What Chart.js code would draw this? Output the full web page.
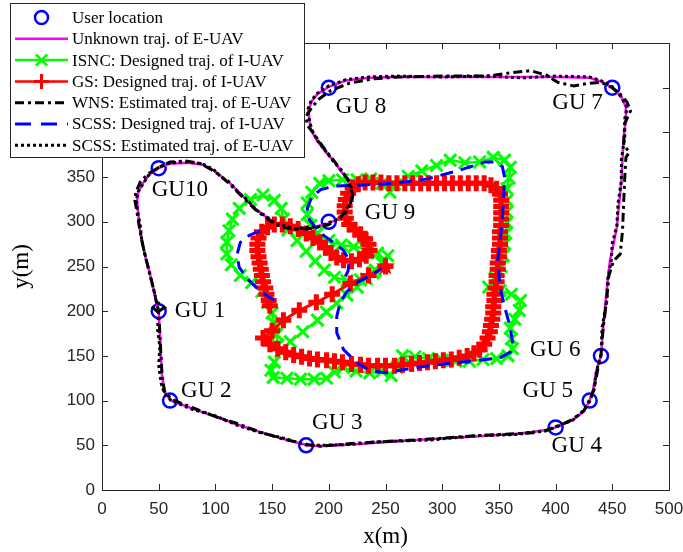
<!DOCTYPE html>
<html>
<head>
<meta charset="utf-8">
<script src="https://cdn.jsdelivr.net/npm/chart.js@4.4.0/dist/chart.umd.min.js"></script>
<style>
  html, body { margin: 0; padding: 0; background: #fff; }
</style>
</head>
<body>
<canvas id="traj" width="683" height="552"></canvas>
<script>
// user (GU) locations
const guX = [50, 60, 180, 400, 430, 440, 450, 200, 200, 50];
const guY = [200, 100, 50, 70, 100, 150, 450, 450, 300, 360];
const guNames = ['GU 1', 'GU 2', 'GU 3', 'GU 4', 'GU 5', 'GU 6', 'GU 7', 'GU 8', 'GU 9', 'GU10'];

// unknown trajectory of the E-UAV
const eTrueX = [50, 51, 52, 53, 56, 61, 80, 100, 120, 139, 160, 181, 192, 220, 245, 290, 333, 365, 380, 392,
  400, 415, 425, 430, 433, 436, 440, 442, 444, 446, 448, 451, 454, 456, 458, 459, 460, 462, 462, 458,
  450, 440, 430, 400, 370, 340, 300, 260, 235, 215, 200, 190, 185, 182, 184, 190, 198, 205, 210, 216,
  219, 220, 219, 215, 210, 200, 190, 181, 170, 163, 153, 145, 136, 128, 120, 113, 105, 98, 88, 75,
  60, 50, 42, 36, 32, 31, 32, 33, 35, 38, 42, 46, 49, 50];
const eTrueY = [200, 176, 150, 127, 108, 100, 91, 82, 73, 65, 57, 50, 49, 51, 53, 57, 60, 63, 65, 67,
  70, 78, 88, 100, 112, 134, 150, 182, 210, 235, 257, 275, 294, 320, 345, 370, 395, 415, 428, 440,
  450, 457, 461, 462, 462, 462, 462, 462, 461, 458, 451, 443, 435, 425, 403, 390, 377, 367, 358, 348,
  339, 330, 321, 312, 305, 298, 295, 293, 293, 294, 299, 305, 314, 324, 334, 343, 351, 358, 364, 366,
  365, 360, 353, 343, 333, 324, 308, 294, 280, 262, 243, 222, 205, 200];

// ISNC: designed trajectory of the I-UAV
const isncX = [252, 247, 241, 233, 225, 216, 207, 198, 190, 177, 166, 158, 152, 149, 151, 163, 175, 187, 198, 205,
  213, 224, 236, 247, 255, 260, 265, 276, 288, 300, 312, 324, 336, 348, 358, 362, 361, 360, 364, 368,
  369, 361, 351, 341, 347, 352, 354, 355, 356, 357, 357, 357, 357, 359, 360, 355, 345, 333, 320, 307,
  295, 282, 270, 258, 254, 247, 237, 225, 212, 200, 192, 185, 181, 181, 184, 190, 200, 211, 222, 233,
  243, 248, 239, 228, 216, 205, 196, 188, 180, 172, 164, 160, 158, 152, 142, 131, 121, 115, 112, 110,
  110, 114, 122, 132, 141, 146, 150, 152, 154, 155];
const isncY = [262, 254, 246, 236, 227, 218, 209, 199, 190, 177, 166, 155, 143, 134, 126, 125, 124, 124, 125, 132,
  137, 133, 131, 133, 128, 137, 150, 149, 147, 145, 144, 144, 146, 147, 150, 158, 169, 181, 191, 201,
  212, 219, 223, 227, 238, 250, 262, 275, 287, 299, 311, 324, 337, 349, 361, 369, 372, 367, 366, 369,
  363, 357, 351, 342, 333, 343, 348, 347, 347, 346, 343, 333, 321, 308, 296, 287, 279, 274, 272, 270,
  265, 255, 243, 235, 234, 238, 246, 256, 267, 279, 291, 303, 315, 324, 330, 325, 315, 303, 290, 277,
  264, 252, 240, 232, 222, 210, 198, 186, 174, 162];

// GS: designed trajectory of the I-UAV
const gsX = [250, 235, 219, 203, 189, 174, 160, 150, 142, 148, 155, 162, 169, 176, 183, 190, 198, 205, 212, 220,
  228, 235, 243, 250, 258, 265, 273, 280, 287, 294, 301, 308, 315, 322, 328, 333, 337, 340, 342, 343,
  344, 345, 345, 346, 346, 347, 348, 348, 349, 349, 350, 350, 351, 351, 351, 352, 352, 352, 352, 352,
  351, 348, 343, 337, 330, 323, 316, 309, 302, 295, 288, 281, 274, 267, 260, 253, 246, 239, 232, 226,
  221, 217, 215, 214, 214, 215, 218, 223, 228, 232, 235, 236, 233, 227, 220, 213, 207, 202, 197, 192,
  186, 180, 173, 166, 159, 152, 146, 141, 138, 137, 137, 138, 139, 140, 141, 142, 144, 145, 147, 148];
const gsY = [250, 240, 231, 219, 210, 201, 190, 178, 170, 163, 158, 154, 151, 149, 147, 146, 145, 144, 143, 141,
  140, 139, 139, 139, 139, 140, 141, 142, 143, 144, 145, 146, 148, 150, 153, 157, 163, 170, 177, 184,
  191, 198, 205, 212, 219, 226, 233, 240, 247, 254, 261, 268, 275, 282, 289, 296, 303, 310, 317, 324,
  331, 337, 341, 343, 343, 343, 343, 343, 343, 343, 343, 343, 343, 343, 343, 343, 344, 344, 344, 342,
  338, 332, 325, 318, 311, 304, 297, 291, 286, 281, 275, 268, 262, 258, 256, 257, 260, 265, 271, 277,
  282, 287, 292, 295, 297, 297, 294, 289, 282, 275, 268, 261, 254, 247, 240, 233, 226, 219, 212, 206];

// WNS: estimated trajectory of the E-UAV
const wnsX = [50, 55, 50, 45, 50, 51, 52, 53, 55, 62, 80, 100, 120, 139, 160, 181, 193, 220, 245, 290,
  333, 365, 381, 390, 400, 415, 425, 430, 434, 437, 440, 442, 445, 447, 451, 457, 459, 460, 461, 462,
  465, 460, 461, 466, 463, 456, 450, 440, 430, 416, 402, 392, 378, 362, 340, 300, 262, 240, 218, 202,
  192, 185, 180, 181, 186, 192, 199, 206, 211, 217, 220, 221, 219, 215, 209, 200, 190, 181, 170, 162,
  152, 144, 135, 127, 119, 112, 104, 97, 87, 74, 60, 50, 41, 34, 30, 29, 31, 33, 35, 38,
  42, 46, 48];
const wnsY = [200, 204, 209, 204, 198, 176, 150, 128, 110, 101, 92, 82, 74, 65, 57, 51, 49, 52, 54, 57,
  61, 63, 64, 66, 70, 79, 89, 101, 113, 134, 151, 182, 212, 240, 256, 264, 290, 321, 350, 372,
  378, 386, 410, 424, 434, 444, 450, 456, 455, 452, 456, 464, 469, 467, 463, 463, 462, 460, 455, 447,
  438, 428, 418, 408, 400, 389, 377, 366, 357, 347, 338, 329, 320, 311, 304, 297, 294, 292, 292, 293,
  298, 305, 314, 324, 334, 343, 352, 358, 365, 368, 367, 361, 354, 345, 334, 324, 310, 294, 280, 262,
  243, 222, 210];

// SCSS: designed trajectory of the I-UAV (null = break)
const scssX = [250, 237, 225, 216, 210, 207, 207, 213, 225, 236, 250, 272, 301, 331, 351, 360, 362, 360, 355, 351,
  349, 352, 354, 355, 353, 346, 338, 316, 287, 257, 228, 205, 193, 185, 181, 183, 192, 204, 213, 218,
  217, 212, null, 152, 140, 129, 121, 119, 122, 130, 140];
const scssY = [250, 240, 232, 222, 210, 194, 176, 157, 142, 134, 131, 136, 141, 145, 148, 154, 165, 182, 205, 227,
  257, 290, 321, 350, 362, 367, 367, 358, 348, 343, 341, 340, 336, 328, 315, 302, 288, 277, 268, 257,
  245, 232, null, 212, 222, 235, 249, 263, 277, 285, 290];

// SCSS: estimated trajectory of the E-UAV
const scssEstX = [50, 49, 51, 50, 52, 55, 61, 80, 100, 120, 140, 160, 181, 193, 220, 245, 290, 333, 365, 381,
  391, 400, 415, 425, 430, 434, 436, 440, 441, 445, 446, 449, 450, 454, 455, 458, 458, 461, 461, 463,
  457, 450, 440, 430, 400, 370, 340, 300, 260, 235, 215, 200, 189, 184, 181, 185, 190, 198, 205, 211,
  216, 219, 221, 219, 214, 210, 200, 190, 181, 170, 163, 153, 145, 136, 128, 120, 113, 105, 98, 88,
  75, 60, 50, 42, 36, 32, 30, 32, 34, 35, 38, 42, 46, 49, 50];
const scssEstY = [200, 180, 160, 140, 120, 108, 100, 90, 83, 72, 64, 58, 50, 50, 51, 54, 56, 61, 62, 65,
  66, 71, 78, 89, 99, 113, 133, 151, 182, 210, 236, 256, 276, 295, 320, 346, 370, 395, 415, 428,
  441, 451, 458, 462, 463, 461, 463, 462, 463, 462, 459, 452, 443, 434, 424, 403, 391, 378, 366, 358,
  349, 339, 330, 320, 312, 304, 299, 294, 294, 292, 295, 298, 306, 313, 325, 333, 344, 350, 359, 365,
  367, 366, 361, 354, 342, 334, 324, 308, 294, 279, 263, 242, 222, 205, 200];

const xTicks = [0, 50, 100, 150, 200, 250, 300, 350, 400, 450, 500];
const yTicks = [0, 50, 100, 150, 200, 250, 300, 350, 400, 450, 500];

const toPts = (xs, ys) => xs.map((x, i) => (x === null ? { x: null, y: null } : { x: x, y: ys[i] }));

const BLUE = '#0000ff';
const MAGENTA = '#ff00ff';
const GREEN = '#00ff00';
const RED = '#ff0000';
const AXIS = '#262626';

function makeStar(size, color) {
  const c = document.createElement('canvas');
  c.width = size;
  c.height = size;
  const g = c.getContext('2d');
  const R = size / 2 - 0.5, r = R * 0.4;
  g.beginPath();
  for (let i = 0; i < 10; i++) {
    const a = -Math.PI / 2 + i * Math.PI / 5;
    const rr = i % 2 ? r : R;
    g.lineTo(size / 2 + rr * Math.cos(a), size / 2 + rr * Math.sin(a));
  }
  g.closePath();
  g.fillStyle = color;
  g.fill();
  return c;
}
const starImg = makeStar(21, RED);

// label offsets (px) from each GU marker: left edge / vertical middle of the text
const guLabelDx = [16, 11, 6, -4, -67, -71, -60, 7, 36, -7];
const guLabelDy = [0, -10, -22, 19, -10, -6, 15, 19, -9, 22];

const legendRows = [
  'User location',
  'Unknown traj. of E-UAV',
  'ISNC: Designed traj. of I-UAV',
  'GS: Designed traj. of I-UAV',
  'WNS: Estimated traj. of E-UAV',
  'SCSS: Designed traj. of I-UAV',
  'SCSS: Estimated traj. of E-UAV'
];

function crossMark(ctx, x, y, r, rot) {
  const a = rot ? Math.PI / 4 : 0;
  const dx = Math.cos(a) * r, dy = Math.sin(a) * r;
  ctx.beginPath();
  ctx.moveTo(x - dx, y - dy); ctx.lineTo(x + dx, y + dy);
  ctx.moveTo(x - dy, y + dx); ctx.lineTo(x + dy, y - dx);
  ctx.stroke();
}

const decorPlugin = {
  id: 'decor',
  afterDraw(chart) {
    const ctx = chart.ctx;
    const a = chart.chartArea;
    const xs = chart.scales.x, ys = chart.scales.y;
    ctx.save();

    // box and inward ticks on all four sides
    ctx.strokeStyle = AXIS;
    ctx.lineWidth = 1;
    ctx.strokeRect(Math.round(a.left) + 0.5, Math.round(a.top) + 0.5,
      Math.round(a.right - a.left), Math.round(a.bottom - a.top));
    ctx.beginPath();
    xTicks.forEach(v => {
      const p = Math.round(xs.getPixelForValue(v)) + 0.5;
      ctx.moveTo(p, a.bottom); ctx.lineTo(p, a.bottom - 6);
      ctx.moveTo(p, a.top); ctx.lineTo(p, a.top + 6);
    });
    yTicks.forEach(v => {
      const p = Math.round(ys.getPixelForValue(v)) + 0.5;
      ctx.moveTo(a.left, p); ctx.lineTo(a.left + 6, p);
      ctx.moveTo(a.right, p); ctx.lineTo(a.right - 6, p);
    });
    ctx.stroke();

    // GU labels
    ctx.fillStyle = '#000';
    ctx.font = '23px "Liberation Serif", "Times New Roman", serif';
    ctx.textBaseline = 'middle';
    ctx.textAlign = 'left';
    guNames.forEach((n, i) => {
      const px = xs.getPixelForValue(guX[i]) + guLabelDx[i];
      const py = ys.getPixelForValue(guY[i]) + guLabelDy[i];
      ctx.fillText(n, px, py);
    });

    // axis titles
    ctx.textAlign = 'center';
    ctx.fillText('x(m)', (a.left + a.right) / 2, 537);
    ctx.save();
    ctx.translate(22, (a.top + a.bottom) / 2);
    ctx.rotate(-Math.PI / 2);
    ctx.fillText('y(m)', 0, 0);
    ctx.restore();

    // legend box
    const L = 10, T = 3, W = 294, H = 154;
    ctx.fillStyle = '#fff';
    ctx.fillRect(L, T, W, H);
    ctx.strokeStyle = '#262626';
    ctx.lineWidth = 1;
    ctx.strokeRect(L + 0.5, T + 0.5, W, H);
    const x0 = 15, x1 = 68, xm = 41.5;
    const styles = [
      null,
      { c: MAGENTA, w: 2.5, d: [] },
      { c: GREEN, w: 2.5, d: [] },
      { c: RED, w: 2.5, d: [] },
      { c: '#000', w: 3, d: [9, 4, 3, 4] },
      { c: BLUE, w: 3, d: [16, 10] },
      { c: '#000', w: 3, d: [3, 3] }
    ];
    legendRows.forEach((txt, i) => {
      const y = 17.5 + i * 21.3;
      ctx.save();
      ctx.setLineDash([]);
      if (i === 0) {
        ctx.strokeStyle = BLUE; ctx.lineWidth = 2.5;
        ctx.beginPath(); ctx.arc(xm, y, 6.5, 0, Math.PI * 2); ctx.stroke();
      } else {
        const s = styles[i];
        ctx.strokeStyle = s.c; ctx.lineWidth = s.w; ctx.setLineDash(s.d);
        ctx.beginPath(); ctx.moveTo(x0, y); ctx.lineTo(x1, y); ctx.stroke();
        ctx.setLineDash([]);
        if (i === 2) { ctx.lineWidth = 2.5; crossMark(ctx, xm, y, 8, true); }
        if (i === 3) { ctx.lineWidth = 3; crossMark(ctx, xm, y, 7.5, false); }
      }
      ctx.restore();
      ctx.fillStyle = '#000';
      ctx.font = '17px "Liberation Serif", "Times New Roman", serif';
      ctx.textAlign = 'left';
      ctx.textBaseline = 'middle';
      ctx.fillText(txt, 72, y + 1);
    });
    ctx.restore();
  }
};

const tickFont = { family: '"Liberation Sans", Arial, sans-serif', size: 17 };

new Chart(document.getElementById('traj'), {
  type: 'scatter',
  data: {
    datasets: [
      {
        label: 'User location',
        data: toPts(guX, guY),
        showLine: false,
        pointStyle: 'circle',
        pointRadius: 7,
        pointBorderWidth: 2.5,
        pointBorderColor: BLUE,
        pointBackgroundColor: 'rgba(0,0,0,0)',
        order: 7
      },
      {
        label: 'Unknown traj. of E-UAV',
        data: toPts(eTrueX, eTrueY),
        showLine: true,
        borderColor: MAGENTA,
        borderWidth: 2.5,
        pointRadius: 0,
        order: 6
      },
      {
        label: 'ISNC: Designed traj. of I-UAV',
        data: toPts(isncX, isncY),
        showLine: true,
        borderColor: GREEN,
        borderWidth: 2.5,
        pointStyle: 'crossRot',
        pointRadius: 8.5,
        pointBorderWidth: 3,
        pointBorderColor: GREEN,
        order: 5
      },
      {
        label: 'GS: Designed traj. of I-UAV',
        data: toPts(gsX, gsY),
        showLine: true,
        borderColor: RED,
        borderWidth: 3,
        pointStyle: 'cross',
        pointRadius: 8,
        pointBorderWidth: 5,
        pointBorderColor: RED,
        order: 4
      },
      {
        label: 'WNS: Estimated traj. of E-UAV',
        data: toPts(wnsX, wnsY),
        showLine: true,
        borderColor: '#000',
        borderWidth: 3,
        borderDash: [9, 4, 3, 4],
        pointRadius: 0,
        order: 3
      },
      {
        label: 'SCSS: Designed traj. of I-UAV',
        data: toPts(scssX, scssY),
        showLine: true,
        spanGaps: false,
        borderColor: BLUE,
        borderWidth: 3,
        borderDash: [13, 8],
        pointRadius: 0,
        order: 2
      },
      {
        label: 'SCSS: Estimated traj. of E-UAV',
        data: toPts(scssEstX, scssEstY),
        showLine: true,
        borderColor: '#000',
        borderWidth: 3,
        borderDash: [3, 3],
        pointRadius: 0,
        order: 1
      },
      {
        label: 'start',
        data: [{ x: gsX[0], y: gsY[0] }],
        showLine: false,
        pointStyle: starImg,
        order: 0
      }
    ]
  },
  options: {
    responsive: false,
    animation: false,
    events: [],
    layout: { padding: { left: 0, right: 14, top: 43, bottom: 0 } },
    plugins: {
      legend: { display: false },
      tooltip: { enabled: false }
    },
    scales: {
      x: {
        type: 'linear',
        min: 0, max: 500,
        grid: { display: false, drawTicks: false },
        border: { display: false },
        ticks: { stepSize: 50, color: AXIS, font: tickFont, padding: 9, maxRotation: 0 },
        afterFit(s) { s.height = 62; s.paddingLeft = 0; s.paddingRight = 0; }
      },
      y: {
        type: 'linear',
        min: 0, max: 500,
        grid: { display: false, drawTicks: false },
        border: { display: false },
        ticks: { stepSize: 50, color: AXIS, font: tickFont, padding: 7 },
        afterFit(s) { s.width = 102; s.paddingTop = 0; s.paddingBottom = 0; }
      }
    }
  },
  plugins: [decorPlugin]
});
</script>
</body>
</html>
